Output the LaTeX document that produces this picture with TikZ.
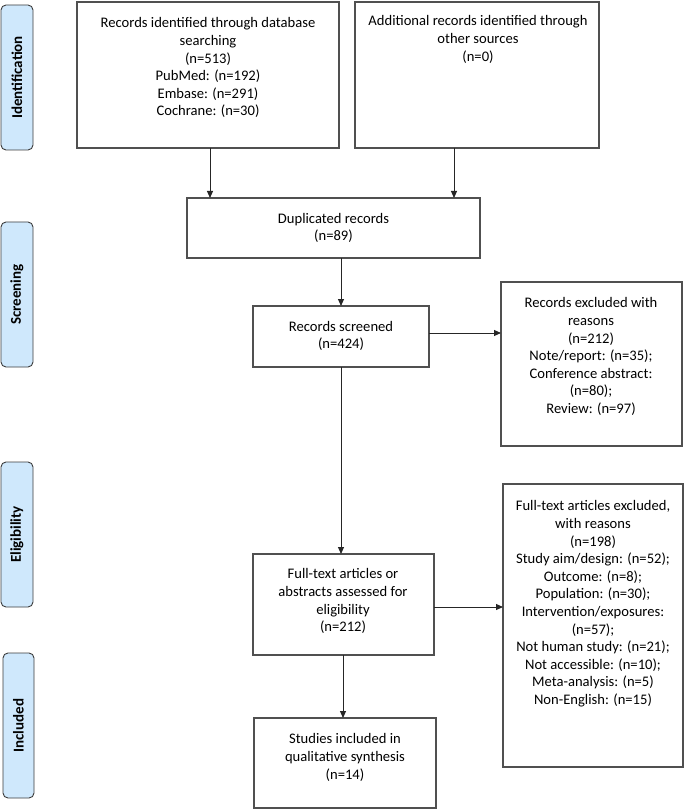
\documentclass[tikz,border=0pt]{standalone}
\usepackage{fontspec}
\setmainfont{Carlito}
\usetikzlibrary{arrows.meta}
\definecolor{boxline}{RGB}{80,80,80}
\definecolor{phasefill}{RGB}{207,232,252}
\definecolor{phaseline}{RGB}{60,60,60}
\begin{document}
\begin{tikzpicture}[x=1pt,y=-1pt,
  box/.style={draw=boxline, line width=1.2pt, inner sep=0pt, outer sep=0pt},
  txt/.style={align=center, inner sep=0pt, anchor=north, font=\fontsize{14.6}{17.6}\selectfont},
  phase/.style={draw=phaseline, fill=phasefill, line width=0.9pt, rounded corners=5pt, rotate=90, inner sep=0pt, font=\fontsize{15}{18}\selectfont\bfseries},
  arr/.style={draw=black!85, line width=1pt, -{Triangle[length=7pt,width=6pt]}}]
\useasboundingbox (0,0) rectangle (685,810);

% phase labels
\node[phase, minimum width=145pt, minimum height=32pt] (pid) at (17,77.5) {Identification};
\node[phase, minimum width=145pt, minimum height=32pt] (psc) at (17,294.5) {Screening};
\node[phase, minimum width=145pt, minimum height=32pt] (pel) at (17,534.5) {Eligibility};
\node[phase, minimum width=145pt, minimum height=31pt] (pin) at (18.5,725.5) {Included};

% boxes
\node[box, minimum width=262pt, minimum height=146pt] (b1) at (208,75) {};
\node[box, minimum width=244pt, minimum height=146pt] (b2) at (477,75) {};
\node[box, minimum width=293pt, minimum height=60pt] (dup) at (333.5,228) {};
\node[box, minimum width=176pt, minimum height=61pt] (scr) at (341,336.5) {};
\node[box, minimum width=181pt, minimum height=164pt] (ex1) at (591.5,364) {};
\node[box, minimum width=181pt, minimum height=101pt] (ft) at (343.5,604.5) {};
\node[box, minimum width=180pt, minimum height=283pt] (ex2) at (593,625.5) {};
\node[box, minimum width=182pt, minimum height=90pt] (st) at (345,763) {};

% texts
\node[txt] (t1) at (208,17.5) {Records identified through database\\searching\\(n=513)\\PubMed: (n=192)\\Embase: (n=291)\\Cochrane: (n=30)};
\node[txt] (t2) at (478,15.5) {Additional records identified through\\other sources\\(n=0)};
\node[txt] (tdup) at (333.5,213) {Duplicated records\\(n=89)};
\node[txt] (tscr) at (341,321) {Records screened\\(n=424)};
\node[txt] (tex1) at (591,297.5) {Records excluded with\\reasons\\(n=212)\\Note/report: (n=35);\\Conference abstract:\\(n=80);\\Review: (n=97)};
\node[txt] (tft) at (343,568.5) {Full-text articles or\\abstracts assessed for\\eligibility\\(n=212)};
\node[txt] (tex2) at (593,500.5) {Full-text articles excluded,\\with reasons\\(n=198)\\Study aim/design: (n=52);\\Outcome: (n=8);\\Population: (n=30);\\Intervention/exposures:\\(n=57);\\Not human study: (n=21);\\Not accessible: (n=10);\\Meta-analysis: (n=5)\\Non-English: (n=15)};
\node[txt] (tst) at (345,733.5) {Studies included in\\qualitative synthesis\\(n=14)};

% connectors
\draw[arr] (b1.south -| 210,0) -- (dup.north -| 210,0);
\draw[arr] (b2.south -| 454,0) -- (dup.north -| 454,0);
\draw[arr] (dup.south -| 341,0) -- (scr.north -| 341,0);
\draw[arr] (scr.east |- 0,333) -- (ex1.west |- 0,333);
\draw[arr] (scr.south -| 341,0) -- (ft.north -| 341,0);
\draw[arr] (ft.east |- 0,607) -- (ex2.west |- 0,607);
\draw[arr] (ft.south -| 343,0) -- (st.north -| 343,0);
\end{tikzpicture}
\end{document}
